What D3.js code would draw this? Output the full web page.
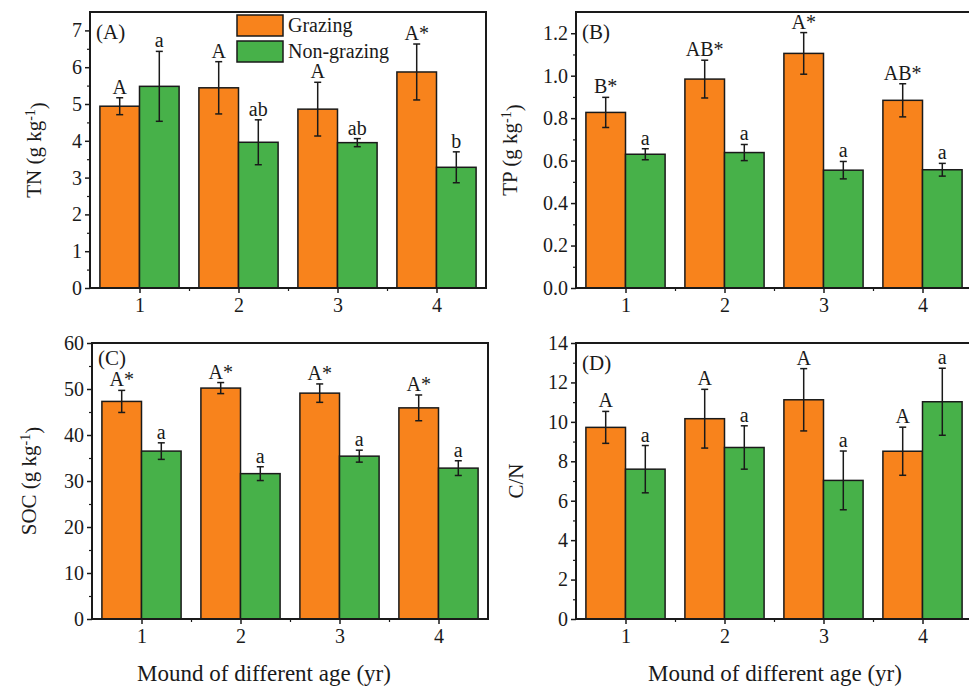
<!DOCTYPE html>
<html>
<head>
<meta charset="utf-8">
<script src="https://cdn.jsdelivr.net/npm/d3@7/dist/d3.min.js"></script>
<style>
  html, body { margin: 0; padding: 0; background: #fff; }
  svg { display: block; font-family: "Liberation Serif", "Times New Roman", serif; }
</style>
</head>
<body>
<svg id="chart" width="969" height="687"></svg>
<script>
// ---------- Data ----------
const categories = [1, 2, 3, 4];
const seriesNames = ["Grazing", "Non-grazing"];

// (A) TN
const tnGrazing = [4.94, 5.44, 4.86, 5.87];
const tnGrazingErr = [0.23, 0.71, 0.73, 0.76];
const tnNonGrazing = [5.48, 3.96, 3.95, 3.28];
const tnNonGrazingErr = [0.95, 0.61, 0.11, 0.42];
const tnGrazingLabels = ["A", "A", "A", "A*"];
const tnNonGrazingLabels = ["a", "ab", "ab", "b"];

// (B) TP
const tpGrazing = [0.827, 0.984, 1.105, 0.884];
const tpGrazingErr = [0.071, 0.089, 0.098, 0.078];
const tpNonGrazing = [0.630, 0.638, 0.555, 0.557];
const tpNonGrazingErr = [0.026, 0.038, 0.041, 0.030];
const tpGrazingLabels = ["B*", "AB*", "A*", "AB*"];
const tpNonGrazingLabels = ["a", "a", "a", "a"];

// (C) SOC
const socGrazing = [47.3, 50.2, 49.1, 45.9];
const socGrazingErr = [2.4, 1.2, 2.0, 2.8];
const socNonGrazing = [36.5, 31.6, 35.4, 32.8];
const socNonGrazingErr = [1.8, 1.5, 1.3, 1.6];
const socGrazingLabels = ["A*", "A*", "A*", "A*"];
const socNonGrazingLabels = ["a", "a", "a", "a"];

// (D) C/N
const cnGrazing = [9.72, 10.16, 11.12, 8.51];
const cnGrazingErr = [0.81, 1.49, 1.58, 1.22];
const cnNonGrazing = [7.60, 8.70, 7.03, 11.02];
const cnNonGrazingErr = [1.20, 1.10, 1.49, 1.70];
const cnGrazingLabels = ["A", "A", "A", "A"];
const cnNonGrazingLabels = ["a", "a", "a", "a"];

// Axis ticks
const tnTicks = [0, 1, 2, 3, 4, 5, 6, 7];
const tpTicks = [0, 0.2, 0.4, 0.6, 0.8, 1.0, 1.2];
const socTicks = [0, 10, 20, 30, 40, 50, 60];
const cnTicks = [0, 2, 4, 6, 8, 10, 12, 14];
const xTitle = "Mound of different age (yr)";

// ---------- Styles ----------
const colorG = "#f8831c";
const colorN = "#47b149";
const ink = "#1a1a1a";
const serif = "Liberation Serif, Times New Roman, serif";

const svg = d3.select("#chart");

const panels = [
  { tag: "(A)", tagDy: 27, name: "TN", unit: true, g: tnGrazing, ge: tnGrazingErr, n: tnNonGrazing, ne: tnNonGrazingErr,
    gl: tnGrazingLabels, nl: tnNonGrazingLabels, ticks: tnTicks, minorStep: 0.5, ymax: 7.5, fmt: d3.format("d"),
    box: { x0: 90, x1: 486, y0: 12, y1: 288 }, titleX: 34, legend: true, xtitleX: null },
  { tag: "(B)", tagDy: 27, name: "TP", unit: true, g: tpGrazing, ge: tpGrazingErr, n: tpNonGrazing, ne: tpNonGrazingErr,
    gl: tpGrazingLabels, nl: tpNonGrazingLabels, ticks: tpTicks, minorStep: 0.1, ymax: 1.3, fmt: d3.format(".1f"),
    box: { x0: 576, x1: 972, y0: 12, y1: 288 }, titleX: 510, legend: false, xtitleX: null },
  { tag: "(C)", tagDy: 22, name: "SOC", unit: true, g: socGrazing, ge: socGrazingErr, n: socNonGrazing, ne: socNonGrazingErr,
    gl: socGrazingLabels, nl: socNonGrazingLabels, ticks: socTicks, minorStep: 5, ymax: 60, fmt: d3.format("d"),
    box: { x0: 92, x1: 488, y0: 343, y1: 619 }, titleX: 29, legend: false, xtitleX: 264 },
  { tag: "(D)", tagDy: 27, name: "C/N", unit: false, g: cnGrazing, ge: cnGrazingErr, n: cnNonGrazing, ne: cnNonGrazingErr,
    gl: cnGrazingLabels, nl: cnNonGrazingLabels, ticks: cnTicks, minorStep: 1, ymax: 14, fmt: d3.format("d"),
    box: { x0: 576, x1: 972, y0: 343, y1: 619 }, titleX: 516, legend: false, xtitleX: 775 }
];

const barW = 0.4; // width of one bar in category units

panels.forEach(p => {
  const b = p.box;
  const x = d3.scaleLinear().domain([0.5, 4.5]).range([b.x0, b.x1]);
  const y = d3.scaleLinear().domain([0, p.ymax]).range([b.y1, b.y0]);
  const g = svg.append("g");

  const bars = categories.flatMap((c, i) => [
    { v: p.g[i], e: p.ge[i], lab: p.gl[i], x0: c - barW, x1: c, fill: colorG },
    { v: p.n[i], e: p.ne[i], lab: p.nl[i], x0: c, x1: c + barW, fill: colorN }
  ]);
  const cx = d => x((d.x0 + d.x1) / 2);

  // Bars
  g.selectAll("rect.bar").data(bars).join("rect")
    .attr("class", "bar")
    .attr("x", d => x(d.x0))
    .attr("width", d => x(d.x1) - x(d.x0))
    .attr("y", d => y(d.v))
    .attr("height", d => y(0) - y(d.v))
    .attr("fill", d => d.fill)
    .attr("stroke", ink)
    .attr("stroke-width", 1.5);

  // Error bars
  const capHalf = 3.5;
  const eb = g.selectAll("g.eb").data(bars).join("g").attr("class", "eb")
    .attr("stroke", ink).attr("stroke-width", 1.5);
  eb.append("line")
    .attr("x1", cx).attr("x2", cx)
    .attr("y1", d => y(d.v + d.e)).attr("y2", d => y(d.v - d.e));
  eb.append("line")
    .attr("x1", d => cx(d) - capHalf).attr("x2", d => cx(d) + capHalf)
    .attr("y1", d => y(d.v + d.e)).attr("y2", d => y(d.v + d.e));
  eb.append("line")
    .attr("x1", d => cx(d) - capHalf).attr("x2", d => cx(d) + capHalf)
    .attr("y1", d => y(d.v - d.e)).attr("y2", d => y(d.v - d.e));

  // Significance labels
  g.selectAll("text.sig").data(bars).join("text")
    .attr("class", "sig")
    .attr("x", cx)
    .attr("y", d => y(d.v + d.e) - 4)
    .attr("text-anchor", "middle")
    .attr("font-family", serif)
    .attr("font-size", 20)
    .attr("fill", ink)
    .text(d => d.lab);

  // Y axis major
  const yAxis = d3.axisLeft(y).tickValues(p.ticks).tickFormat(p.fmt).tickSize(5).tickPadding(3);
  const ya = g.append("g").attr("transform", `translate(${b.x0},0)`).call(yAxis);
  ya.attr("font-family", serif).attr("font-size", 20);
  ya.select(".domain").remove();
  ya.selectAll(".tick line").attr("stroke", ink).attr("stroke-width", 1.5);
  ya.selectAll(".tick text").attr("fill", ink);

  // Y minor ticks
  const minor = d3.range(p.minorStep, p.ymax + 1e-9, p.minorStep * 2).filter(v => v < p.ymax - 1e-9);
  const yMinor = d3.axisLeft(y).tickValues(minor).tickFormat("").tickSize(3);
  const ym = g.append("g").attr("transform", `translate(${b.x0},0)`).call(yMinor);
  ym.select(".domain").remove();
  ym.selectAll(".tick line").attr("stroke", ink).attr("stroke-width", 1.2);

  // X axis major
  const xAxis = d3.axisBottom(x).tickValues(categories).tickFormat(d3.format("d")).tickSize(5).tickPadding(5);
  const xa = g.append("g").attr("transform", `translate(0,${b.y1})`).call(xAxis);
  xa.attr("font-family", serif).attr("font-size", 20);
  xa.select(".domain").remove();
  xa.selectAll(".tick line").attr("stroke", ink).attr("stroke-width", 1.5);
  xa.selectAll(".tick text").attr("fill", ink);

  // X minor ticks
  const xMinor = d3.axisBottom(x).tickValues([1.5, 2.5, 3.5]).tickFormat("").tickSize(3);
  const xm = g.append("g").attr("transform", `translate(0,${b.y1})`).call(xMinor);
  xm.select(".domain").remove();
  xm.selectAll(".tick line").attr("stroke", ink).attr("stroke-width", 1.2);

  // Frame
  g.append("rect")
    .attr("x", b.x0).attr("y", b.y0)
    .attr("width", b.x1 - b.x0).attr("height", b.y1 - b.y0)
    .attr("fill", "none").attr("stroke", ink).attr("stroke-width", 2);

  // Panel tag
  g.append("text")
    .attr("x", b.x0 + 6).attr("y", b.y0 + p.tagDy)
    .attr("font-family", serif)
    .attr("font-size", 21).attr("fill", ink)
    .text(p.tag);

  // Y title
  const cy = (b.y0 + b.y1) / 2;
  const yt = g.append("text")
    .attr("transform", `translate(${p.titleX},${cy}) rotate(-90)`)
    .attr("text-anchor", "middle")
    .attr("dy", "0.35em")
    .attr("font-family", serif)
    .attr("font-size", 21).attr("fill", ink);
  if (p.unit) {
    yt.append("tspan").text(p.name + " (g kg");
    yt.append("tspan").attr("dy", "-0.45em").attr("font-size", 14).text("-1");
    yt.append("tspan").attr("dy", "0.45em").text(")");
  } else {
    yt.text(p.name);
  }

  // X title
  if (p.xtitleX !== null) {
    g.append("text")
      .attr("x", p.xtitleX)
      .attr("y", 681)
      .attr("text-anchor", "middle")
      .attr("font-family", serif)
      .attr("font-size", 23).attr("fill", ink)
      .text(xTitle);
  }

  // Legend
  if (p.legend) {
    const lg = g.append("g");
    const items = seriesNames.map((s, i) => ({ s, i, fill: i === 0 ? colorG : colorN }));
    lg.selectAll("rect").data(items).join("rect")
      .attr("x", 237).attr("y", d => 15 + d.i * 26)
      .attr("width", 46).attr("height", 21)
      .attr("fill", d => d.fill).attr("stroke", ink).attr("stroke-width", 1.5);
    lg.selectAll("text").data(items).join("text")
      .attr("x", 288).attr("y", d => 32 + d.i * 26)
      .attr("font-family", serif)
      .attr("font-size", 20).attr("fill", ink)
      .text(d => d.s);
  }
});
</script>
</body>
</html>
